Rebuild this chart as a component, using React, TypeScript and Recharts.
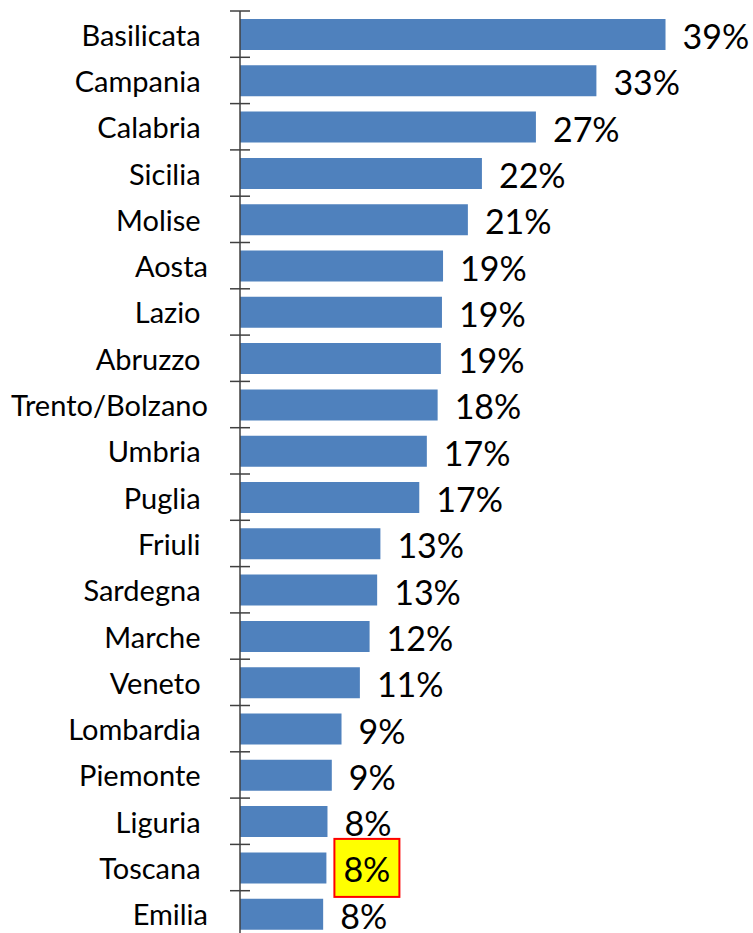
import React from "react";
import {
  BarChart,
  Bar,
  XAxis,
  YAxis,
  LabelList,
} from "recharts";

// Regions, top to bottom (trailing space kept as in the source labels)
const regions = [
  "Basilicata ",
  "Campania ",
  "Calabria ",
  "Sicilia ",
  "Molise ",
  "Aosta",
  "Lazio ",
  "Abruzzo ",
  "Trento/Bolzano",
  "Umbria ",
  "Puglia ",
  "Friuli ",
  "Sardegna ",
  "Marche ",
  "Veneto ",
  "Lombardia ",
  "Piemonte ",
  "Liguria ",
  "Toscana ",
  "Emilia",
];

// Share in percent
const shares = [
  39.4, 33.0, 27.4, 22.4, 21.1, 18.8, 18.7, 18.6, 18.3, 17.3, 16.6, 13.0,
  12.7, 12.0, 11.1, 9.4, 8.5, 8.1, 8.0, 7.7,
];

const highlighted = "Toscana ";

const BAR_COLOR = "#4F81BD";
const AXIS_COLOR = "#404040";
const FONT = "Lato, 'Open Sans', sans-serif";

const data = regions.map((name, i) => ({ name, value: shares[i] }));

// Category label plus the Excel-style tick marks that cross the axis
// between categories
const CategoryTick = (props: any) => {
  const { x, y, payload, index, height, visibleTicksCount } = props;
  const count = visibleTicksCount || regions.length;
  const band = (height || 926) / count;
  const top = y - band / 2;
  const isLast = index === count - 1;
  return (
    <g>
      <line
        x1={x - 10}
        x2={x + 10}
        y1={top}
        y2={top}
        stroke={AXIS_COLOR}
        strokeWidth={1.5}
      />
      {isLast && (
        <line
          x1={x - 10}
          x2={x + 10}
          y1={top + band}
          y2={top + band}
          stroke={AXIS_COLOR}
          strokeWidth={1.5}
        />
      )}
      <text
        x={x - 32}
        y={y}
        textAnchor="end"
        dominantBaseline="central"
        fontFamily={FONT}
        fontSize={29}
        fill="#000"
        style={{ whiteSpace: "pre" }}
      >
        {payload.value}
      </text>
    </g>
  );
};

const ValueLabel = (props: any) => {
  const { x, y, width, height, value, index } = props;
  const lx = x + width + 17;
  const cy = y + height / 2;
  const isHighlighted = data[index]?.name === highlighted;
  return (
    <g>
      {isHighlighted && (
        <rect
          x={x + width + 8}
          y={cy - 29}
          width={65}
          height={58}
          fill="#FFFF00"
          stroke="#FF0000"
          strokeWidth={2}
        />
      )}
      <text
        x={lx}
        y={cy + 1}
        dominantBaseline="central"
        fontFamily={FONT}
        fontSize={34}
        fill="#000"
      >
        {`${Math.round(value)}%`}
      </text>
    </g>
  );
};

export default function App() {
  return (
    <div
      style={{
        position: "absolute",
        left: 0,
        top: 0,
        width: 753,
        height: 933,
        overflow: "hidden",
        background: "#fff",
      }}
    >
      <BarChart
        width={753}
        height={940}
        data={data}
        layout="vertical"
        margin={{ top: 11, right: 81, bottom: 3, left: 0 }}
      >
        <XAxis type="number" domain={[0, 40]} hide />
        <YAxis
          type="category"
          dataKey="name"
          width={240}
          interval={0}
          axisLine={{ stroke: AXIS_COLOR, strokeWidth: 1.5 }}
          tickLine={false}
          tickSize={0}
          tickMargin={0}
          tick={<CategoryTick />}
        />
        <Bar
          dataKey="value"
          fill={BAR_COLOR}
          barSize={31}
          isAnimationActive={false}
        >
          <LabelList dataKey="value" content={<ValueLabel />} />
        </Bar>
      </BarChart>
    </div>
  );
}
